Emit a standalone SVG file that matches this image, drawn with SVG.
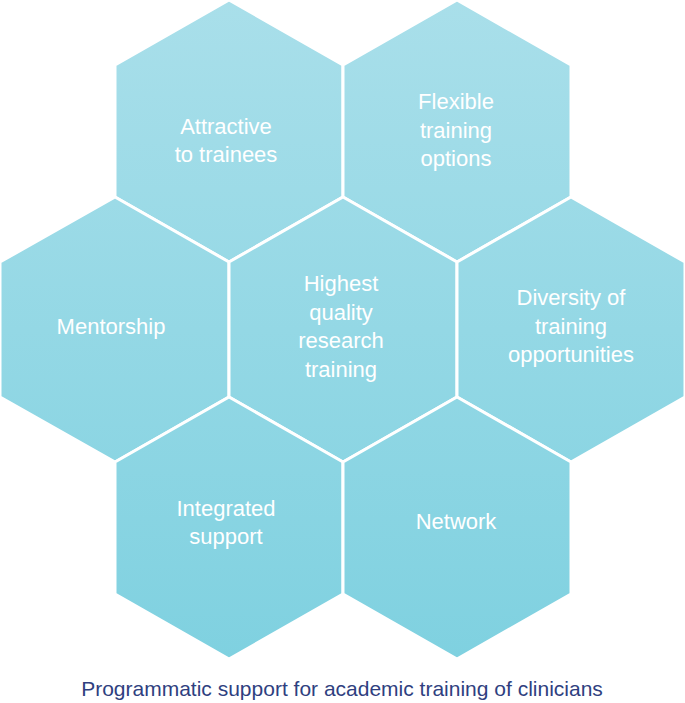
<svg xmlns="http://www.w3.org/2000/svg" width="685" height="703" viewBox="0 0 685 703">
<defs>
<linearGradient id="g" x1="0" y1="0" x2="0" y2="660" gradientUnits="userSpaceOnUse">
<stop offset="0" stop-color="#a9dfea"/><stop offset="1" stop-color="#7fd1e0"/>
</linearGradient>
<style>
.h{fill:url(#g);stroke:#fff;stroke-width:3}
.t{fill:#fff;font-family:"Liberation Sans",Arial,sans-serif;font-size:22px;text-anchor:middle}
.c{fill:#2f3f80;font-family:"Liberation Sans",Arial,sans-serif;font-size:21px;text-anchor:middle}
</style>
</defs>
<rect width="685" height="703" fill="#fff"/>
<g id="n1"><polygon class="h" points="229,0 343,65 343,197 229,262 115,197 115,65"/><text class="t" x="226" y="134">Attractive</text><text class="t" x="226" y="162">to trainees</text></g>
<g id="n2"><polygon class="h" points="457,0 571,65 571,197 457,262 343,197 343,65"/><text class="t" x="456" y="109">Flexible</text><text class="t" x="456" y="138">training</text><text class="t" x="456" y="166">options</text></g>
<g id="n3"><polygon class="h" points="115,197 229,262 229,397 115,462 0,397 0,262"/><text class="t" x="111" y="334">Mentorship</text></g>
<g id="n4"><polygon class="h" points="343,197 457,262 457,397 343,462 229,397 229,262"/><text class="t" x="341" y="291">Highest</text><text class="t" x="341" y="320">quality</text><text class="t" x="341" y="348">research</text><text class="t" x="341" y="377">training</text></g>
<g id="n5"><polygon class="h" points="571,197 685,262 685,397 571,462 457,397 457,262"/><text class="t" x="571" y="305">Diversity of</text><text class="t" x="571" y="334">training</text><text class="t" x="571" y="362">opportunities</text></g>
<g id="n6"><polygon class="h" points="229,397 343,462 343,594 229,659 115,594 115,462"/><text class="t" x="226" y="516">Integrated</text><text class="t" x="226" y="544">support</text></g>
<g id="n7"><polygon class="h" points="457,397 571,462 571,594 457,659 343,594 343,462"/><text class="t" x="456" y="529">Network</text></g>
<g id="connectors"></g>
<text class="c" x="342" y="696">Programmatic support for academic training of clinicians</text>
</svg>
